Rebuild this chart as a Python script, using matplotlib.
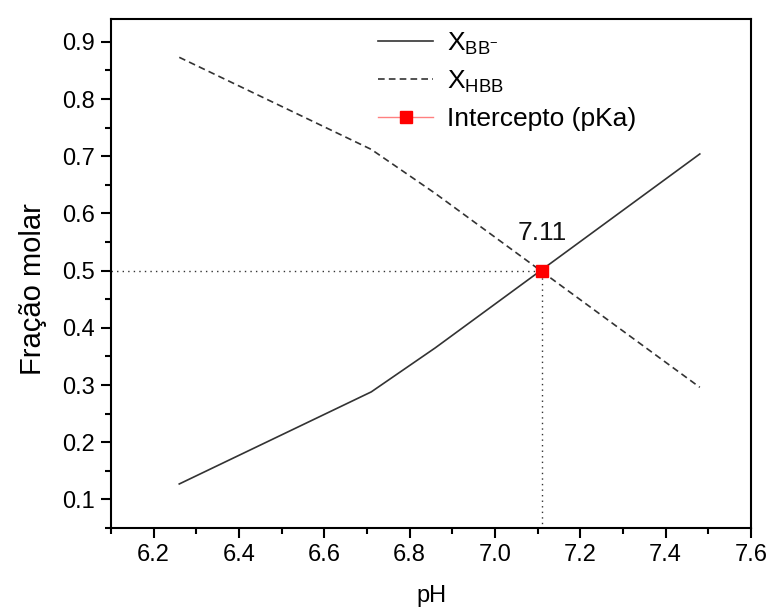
import matplotlib

matplotlib.use("Agg")
import matplotlib.pyplot as plt
from matplotlib.ticker import MultipleLocator

plt.rcParams["font.family"] = ["Liberation Sans", "DejaVu Sans"]
plt.rcParams["mathtext.fontset"] = "custom"
plt.rcParams["mathtext.rm"] = "Liberation Sans"

# data
ph = [6.26, 6.71, 6.86, 7.48]
x_bb = [0.127, 0.288, 0.365, 0.704]
x_hbb = [0.873, 0.712, 0.635, 0.296]
pka = 7.11
x_equal = 0.5

fig = plt.figure(figsize=(7.68, 6.07), dpi=100)
ax = fig.add_axes([111 / 768, 1 - 528 / 607, 640 / 768, 509 / 607])

ax.plot(ph, x_bb, color="#333333", lw=1.2, label=r"X$_{\mathregular{BB^{-}}}$")
ax.plot(ph, x_hbb, color="#333333", lw=1.2, ls=(0, (4, 2.5)), label=r"X$_{\mathregular{HBB}}$")
ax.plot([6.1, pka], [x_equal, x_equal], color="#333333", lw=1.0, ls=(0, (1, 3)))
ax.plot([pka, pka], [0.0, x_equal], color="#333333", lw=1.0, ls=(0, (1, 3)))
ax.plot([pka], [x_equal], color="#ff8080", lw=1.0, marker="s", ms=8,
        mfc="red", mec="red", label="Intercepto (pKa)")
ax.text(pka, x_equal + 0.045, f"{pka:.2f}", ha="center", va="bottom", fontsize=19, color="#111111")

ax.set_xlim(6.1, 7.6)
ax.set_ylim(0.05, 0.94)
ax.xaxis.set_minor_locator(MultipleLocator(0.1))
ax.yaxis.set_minor_locator(MultipleLocator(0.05))
ax.set_xticks([6.2, 6.4, 6.6, 6.8, 7.0, 7.2, 7.4, 7.6])
ax.set_xticklabels(["6.2", "6.4", "6.6", "6.8", "7.0", "7.2", "7.4", "7.6"])
ax.set_yticks([0.1, 0.2, 0.3, 0.4, 0.5, 0.6, 0.7, 0.8, 0.9])
ax.set_yticklabels(["0.1", "0.2", "0.3", "0.4", "0.5", "0.6", "0.7", "0.8", "0.9"])
ax.tick_params(which="major", direction="out", length=7.5, width=1.5, labelsize=17, pad=4)
ax.tick_params(which="minor", direction="out", length=4, width=1.5)
for sp in ax.spines.values():
    sp.set_linewidth(1.5)

ax.set_xlabel("pH", fontsize=17)
ax.xaxis.set_label_coords(0.5, -0.112)
ax.set_ylabel("Fração molar", fontsize=21)
ax.yaxis.set_label_coords(-0.1, 0.47)

ax.legend(loc="upper left", bbox_to_anchor=(0.38, 1.025), frameon=False, fontsize=19,
          handlelength=2.1, handletextpad=0.5, labelspacing=0.45)

# caption line of the source page, only its lower edge shows above the frame
fig.text(0.5, 1 + 5 / 607, "O intercepto se encontra no ponto em que as frações molares são iguais.",
         ha="center", va="baseline", fontsize=19, family="Liberation Serif")

fig.savefig("out.png", dpi=100)
